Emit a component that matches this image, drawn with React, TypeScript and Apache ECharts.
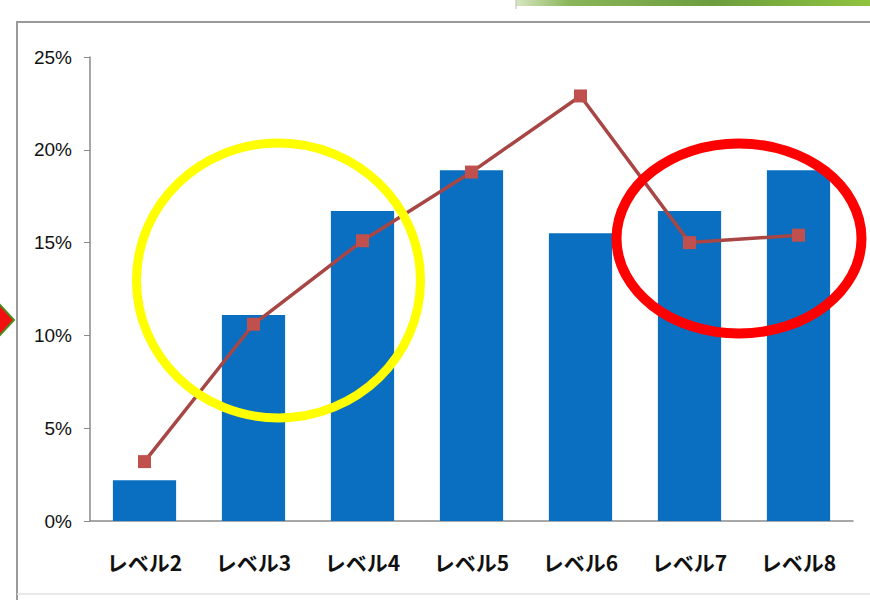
import React, { useEffect, useRef } from "react";
import * as echarts from "echarts";

const categories = ["レベル2", "レベル3", "レベル4", "レベル5", "レベル6", "レベル7", "レベル8"];
const barValues = [2.2, 11.1, 16.7, 18.9, 15.5, 16.7, 18.9];
const lineValues = [3.2, 10.6, 15.1, 18.8, 22.9, 15.0, 15.4];
const yTicks = [0, 5, 10, 15, 20, 25];

export default function App() {
  const ref = useRef<HTMLDivElement>(null);
  useEffect(() => {
    if (!ref.current) return;
    const chart = echarts.init(ref.current, null, { renderer: "svg" });
    chart.setOption({
      animation: false,
      backgroundColor: "#ffffff",
      grid: { left: 90, right: 17, top: 57, bottom: 79 },
      xAxis: {
        type: "category",
        data: categories,
        axisLine: { lineStyle: { color: "#8a8a8a", width: 1.5 } },
        axisTick: { show: false },
        axisLabel: {
          color: "#111111",
          fontSize: 21,
          fontWeight: "bold",
          margin: 30,
          fontFamily: "'Noto Sans CJK JP', sans-serif",
        },
      },
      yAxis: {
        type: "value",
        min: yTicks[0],
        max: yTicks[yTicks.length - 1],
        interval: 5,
        axisLine: { show: true, lineStyle: { color: "#8a8a8a", width: 1.5 } },
        axisTick: { show: true, inside: false, length: 6, lineStyle: { color: "#8a8a8a" } },
        splitLine: { show: false },
        axisLabel: {
          color: "#111111",
          fontSize: 19,
          margin: 18,
          fontFamily: "'Liberation Sans Narrow', 'Liberation Sans', sans-serif",
          formatter: (v: number) => v + "%",
        },
      },
      series: [
        {
          type: "bar",
          data: barValues,
          barWidth: "58%",
          itemStyle: { color: "#0a6fc0" },
        },
        {
          type: "line",
          data: lineValues,
          symbol: "rect",
          symbolSize: 13,
          lineStyle: { color: "#a84645", width: 3.5 },
          itemStyle: { color: "#c0504d" },
          z: 3,
        },
      ],
      graphic: [
        {
          type: "rect",
          shape: { x: 17, y: 22, width: 900, height: 600 },
          style: { fill: "none", stroke: "#9a9a9a", lineWidth: 2 },
          silent: true,
          z: -1,
        },
        {
          type: "line",
          shape: { x1: 17, y1: 594, x2: 870, y2: 594 },
          style: { stroke: "#e2e2e2", lineWidth: 1.5 },
          silent: true,
        },
        {
          type: "rect",
          shape: { x: 516, y: 0, width: 354, height: 6 },
          style: {
            fill: new echarts.graphic.LinearGradient(0, 0, 1, 0, [
              { offset: 0, color: "#d6e6bf" },
              { offset: 0.15, color: "#8ab55a" },
              { offset: 0.55, color: "#6c9d3e" },
              { offset: 1, color: "#8fc33e" },
            ]),
          },
          silent: true,
        },
        {
          type: "line",
          shape: { x1: 516, y1: 0, x2: 516, y2: 9 },
          style: { stroke: "#bbbbbb", lineWidth: 1 },
          silent: true,
        },
        {
          type: "polygon",
          shape: { points: [[-14, 320], [0, 305], [14, 320], [0, 335]] },
          style: { fill: "#f01010", stroke: "#4f8a1e", lineWidth: 2 },
          silent: true,
          z: 10,
        },
        {
          type: "ellipse",
          shape: { cx: 278.5, cy: 280.5, rx: 142, ry: 137.5 },
          style: { fill: "none", stroke: "#ffff00", lineWidth: 9 },
          silent: true,
          z: 10,
        },
        {
          type: "ellipse",
          shape: { cx: 739, cy: 238.5, rx: 122.5, ry: 95 },
          style: { fill: "none", stroke: "#ff0000", lineWidth: 10 },
          silent: true,
          z: 10,
        },
      ],
    });
    return () => chart.dispose();
  }, []);
  return (
    <div
      ref={ref}
      style={{ position: "fixed", left: 0, top: 0, width: 870, height: 600 }}
    />
  );
}
